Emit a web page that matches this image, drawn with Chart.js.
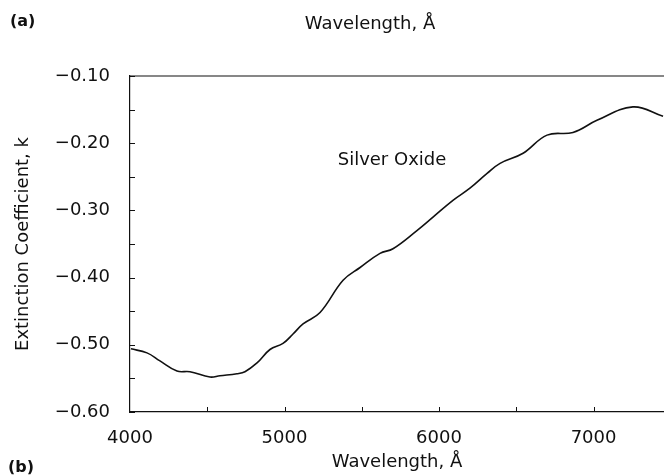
<!DOCTYPE html>
<html lang="en">
<head>
    <title>Silver Oxide</title>
    <meta charset="UTF-8">
    <script src="https://cdn.jsdelivr.net/npm/chart.js"></script>
    <style>
        html, body {
            margin: 0;
            padding: 0;
            background: #fff;
            overflow: hidden;
        }
        #wrap {
            width: 664px;
            height: 476px;
        }
    </style>
</head>
<body>
    <div id="wrap">
        <canvas id="chart" width="664" height="476"></canvas>
    </div>
    <script>
        // curve
        var wavelengths = [4006, 4110, 4194, 4304, 4388, 4518, 4582, 4692, 4744, 4822, 4906, 4990, 5055, 5120, 5230,
            5379, 5489, 5618, 5702, 5857, 5961, 6090, 6200, 6311, 6395, 6544, 6699, 6867, 7022, 7255, 7450];
        var kValues = [-0.506, -0.512, -0.524, -0.539, -0.540, -0.548, -0.546, -0.543, -0.540, -0.527, -0.507, -0.498, -0.484, -0.469, -0.452,
            -0.404, -0.385, -0.364, -0.357, -0.330, -0.310, -0.285, -0.267, -0.245, -0.230, -0.215, -0.188, -0.184, -0.166, -0.146, -0.160];

        var xTicks = [4000, 5000, 6000, 7000];
        var yTicks = [-0.10, -0.20, -0.30, -0.40, -0.50, -0.60];

        var font = 'DejaVu Sans';
        var ink = '#111';

        var points = wavelengths.map(function (w, i) {
            return { x: w, y: kValues[i] };
        });

        // frame, inward ticks and the loose texts
        var extras = {
            id: 'extras',
            afterDraw: function (chart) {
                var ctx = chart.ctx;
                var area = chart.chartArea;
                var xs = chart.scales.x;
                var ys = chart.scales.y;
                ctx.save();
                ctx.strokeStyle = ink;
                ctx.lineWidth = 1.2;
                ctx.beginPath();
                ctx.moveTo(area.left, area.top);
                ctx.lineTo(area.right, area.top);
                ctx.stroke();

                ctx.lineWidth = 1;
                for (var v = -0.60; v <= -0.099; v += 0.05) {
                    var py = Math.round(ys.getPixelForValue(v)) + 0.5;
                    ctx.beginPath();
                    ctx.moveTo(area.left, py);
                    ctx.lineTo(area.left + 5, py);
                    ctx.stroke();
                }
                for (var w = 4500; w < xs.max; w += 500) {
                    var px = Math.round(xs.getPixelForValue(w)) + 0.5;
                    ctx.beginPath();
                    ctx.moveTo(px, area.bottom);
                    ctx.lineTo(px, area.bottom - 5);
                    ctx.stroke();
                }

                ctx.fillStyle = ink;
                ctx.textBaseline = 'middle';
                ctx.textAlign = 'center';
                ctx.font = '18px "' + font + '"';
                ctx.fillText('Wavelength, Å', 370, 24);
                ctx.fillText('Silver Oxide', 392, 160);

                ctx.textAlign = 'left';
                ctx.font = 'bold 16px "' + font + '"';
                ctx.fillText('(a)', 10, 22);
                ctx.fillText('(b)', 8, 468);
                ctx.restore();
            }
        };

        var ctx = document.getElementById('chart').getContext('2d');
        var chart = new Chart(ctx, {
            type: 'line',
            data: {
                datasets: [{
                    data: points,
                    borderColor: ink,
                    borderWidth: 1.6,
                    pointRadius: 0,
                    tension: 0.4,
                    fill: false
                }]
            },
            options: {
                responsive: false,
                animation: false,
                layout: { padding: { top: 76, right: 0, bottom: 0, left: 0 } },
                plugins: {
                    legend: { display: false },
                    tooltip: { enabled: false }
                },
                scales: {
                    x: {
                        type: 'linear',
                        min: 4000,
                        max: 7456,
                        afterFit: function (scale) { scale.height = 64; },
                        afterBuildTicks: function (scale) {
                            scale.ticks = xTicks.map(function (v) { return { value: v }; });
                        },
                        grid: { display: false },
                        border: { display: true, color: ink, width: 1.2 },
                        ticks: {
                            padding: 8,
                            color: ink,
                            font: { family: font, size: 18 },
                            maxRotation: 0,
                            callback: function (v) { return String(v); }
                        },
                        title: {
                            display: true,
                            text: 'Wavelength, Å',
                            color: ink,
                            font: { family: font, size: 18 },
                            padding: { top: 0, bottom: 3 }
                        }
                    },
                    y: {
                        min: -0.60,
                        max: -0.10,
                        afterFit: function (scale) { scale.width = 130; },
                        afterBuildTicks: function (scale) {
                            scale.ticks = yTicks.map(function (v) { return { value: v }; });
                        },
                        grid: { display: false },
                        border: { display: true, color: ink, width: 1.2 },
                        ticks: {
                            padding: 12,
                            color: ink,
                            font: { family: font, size: 18 },
                            callback: function (v) { return v.toFixed(2).replace('-', '\u2212'); }
                        },
                        title: {
                            display: true,
                            text: 'Extinction Coefficient, k',
                            color: ink,
                            font: { family: font, size: 18 },
                            padding: { top: 13, bottom: 0 }
                        }
                    }
                }
            },
            plugins: [extras]
        });
    </script>
</body>
</html>
